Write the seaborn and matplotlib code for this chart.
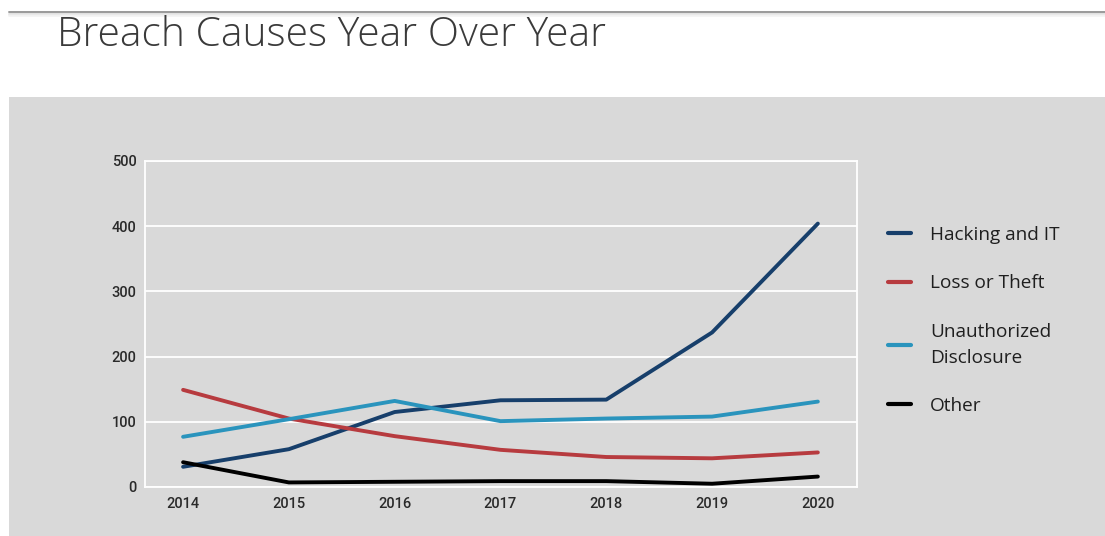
import matplotlib
matplotlib.use("Agg")
import matplotlib.pyplot as plt
from matplotlib.patches import Rectangle
from matplotlib.lines import Line2D
import seaborn as sns
import pandas as pd

years = [2014, 2015, 2016, 2017, 2018, 2019, 2020]
hacking = [31, 58, 115, 133, 134, 237, 404]
loss_theft = [149, 105, 78, 57, 46, 44, 53]
unauthorized = [77, 104, 132, 101, 105, 108, 131]
other = [38, 7, 8, 9, 9, 5, 16]
series_names = ["Hacking and IT", "Loss or Theft", "Unauthorized\nDisclosure", "Other"]
colors = ["#173f6b", "#b73b3f", "#2a94bd", "#000000"]
y_ticks = [0, 100, 200, 300, 400, 500]

rows = []
for name, vals in zip(series_names, [hacking, loss_theft, unauthorized, other]):
    for yr, v in zip(years, vals):
        rows.append({"Year": yr, "Count": v, "Cause": name})
df = pd.DataFrame(rows)

sns.set_theme(style="white")
plt.rcParams["font.family"] = ["Roboto", "DejaVu Sans"]

fig = plt.figure(figsize=(11.05, 5.36), dpi=100)
fig.patch.set_facecolor("white")
# gray panel
fig.patches.append(Rectangle((9 / 1105, 0), 1 - 9 / 1105, 1 - 97 / 536,
                             transform=fig.transFigure, facecolor="#d9d9d9",
                             edgecolor="none", zorder=-5))
# top rule with soft shadow
fig.add_artist(Line2D([9 / 1105, 1], [1 - 11.5 / 536] * 2, transform=fig.transFigure,
                      color="#9a9a9a", lw=1.4))
for i, c in enumerate(["#dcdcdc", "#ebebeb", "#f4f4f4"]):
    fig.add_artist(Line2D([9 / 1105, 1], [1 - (13.5 + i * 1.2) / 536] * 2,
                          transform=fig.transFigure, color=c, lw=1.2))

fig.text(57 / 1105, 1 - 35 / 536, "Breach Causes Year Over Year",
         fontsize=29.3, fontweight="light", color="#3a3a3a",
         family=["Open Sans", "DejaVu Sans"], va="center", ha="left")

ax = fig.add_axes([145 / 1105, 1 - 487 / 536, (857 - 145) / 1105, (487 - 161) / 536])
ax.set_facecolor("#d9d9d9")
sns.lineplot(data=df, x="Year", y="Count", hue="Cause", palette=colors,
             hue_order=series_names, linewidth=2.8, ax=ax, sort=False)

ax.set_xlim(2013.64, 2020.37)
ax.set_ylim(0, 500)
ax.set_yticks(y_ticks)
ax.set_xticks(years)
ax.set_xticklabels([str(y) for y in years])
ax.grid(axis="y", color="white", lw=1.3)
ax.set_axisbelow(True)
for s in ax.spines.values():
    s.set_color("white")
    s.set_linewidth(1.3)
ax.tick_params(axis="both", length=0, labelsize=10.5, colors="#2a2a2a")
ax.tick_params(axis="y", pad=6)
ax.tick_params(axis="x", pad=7)
for lab in ax.get_xticklabels() + ax.get_yticklabels():
    lab.set_fontweight("medium")
ax.set_xlabel("")
ax.set_ylabel("")

leg = ax.legend(loc="upper left", bbox_to_anchor=(1.0195, 0.853), frameon=False,
                handlelength=1.2, handletextpad=1.0,
                labelspacing=1.6, prop={"family": ["Open Sans", "DejaVu Sans"], "size": 13.7})
for h in leg.get_lines():
    h.set_linewidth(3)
for t in leg.get_texts():
    t.set_color("#1f1f1f")
    t.set_linespacing(1.55)

fig.savefig("out.png", dpi=100)
